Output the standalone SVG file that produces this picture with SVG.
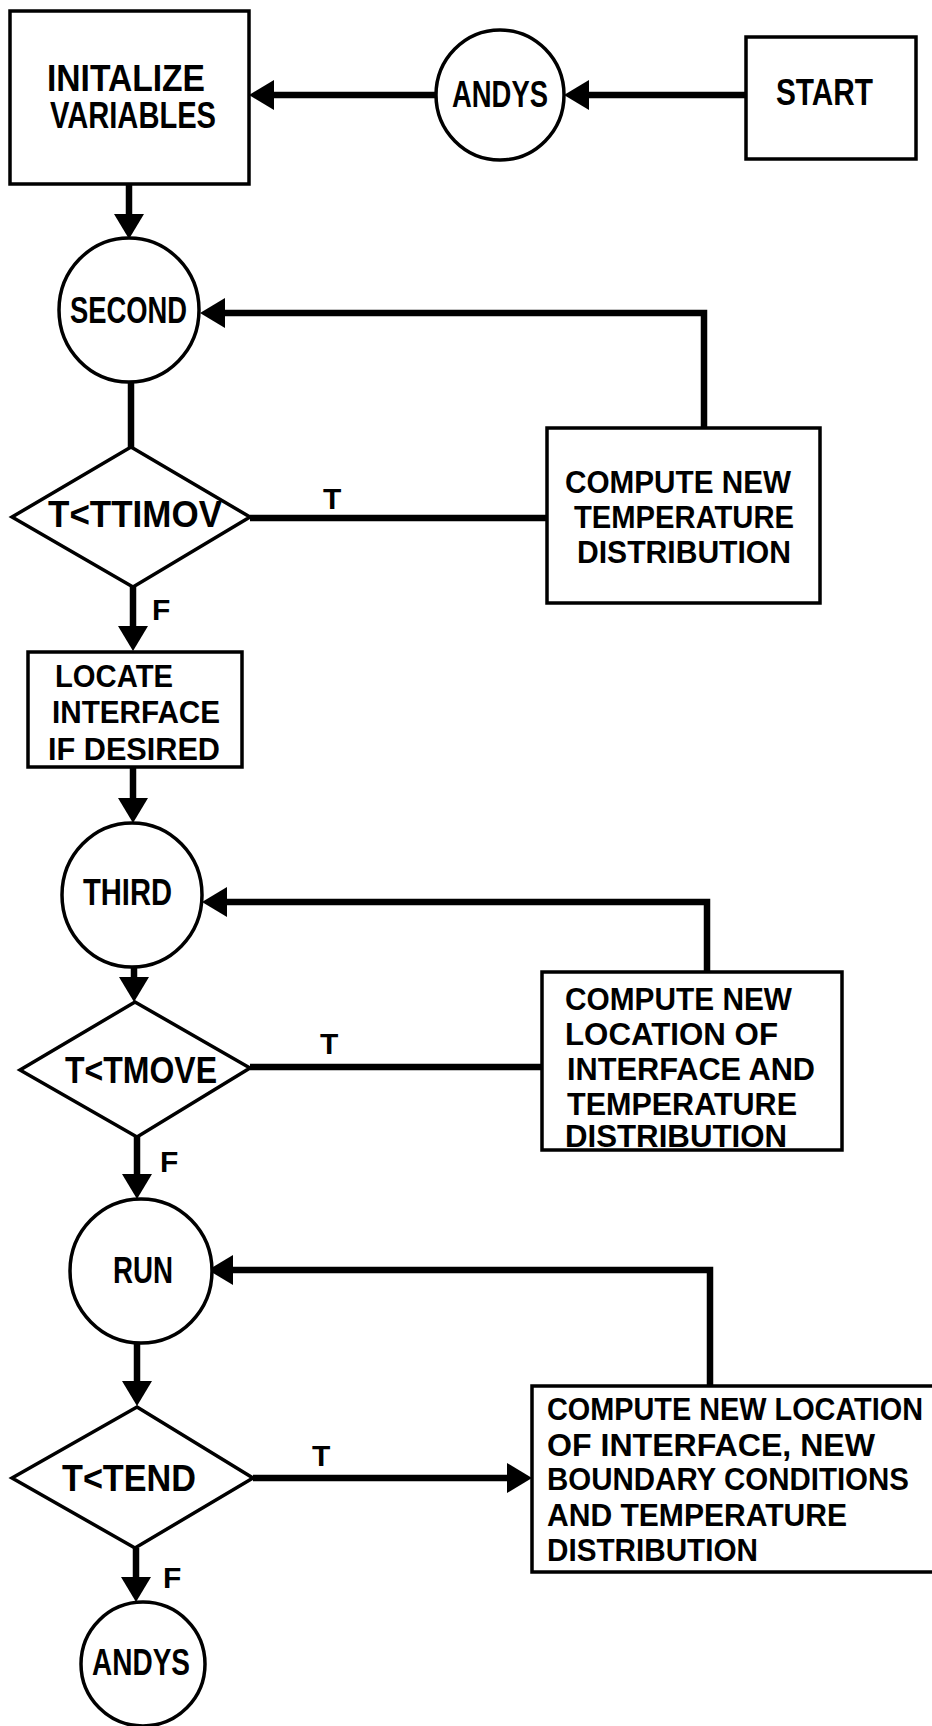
<svg xmlns="http://www.w3.org/2000/svg" width="932" height="1726" viewBox="0 0 932 1726">
  <style>
    .node { fill: #ffffff; stroke: #000000; stroke-width: 3.5; stroke-linejoin: miter; }
    .flow { fill: none; stroke: #000000; stroke-width: 6.5; stroke-linejoin: miter; stroke-linecap: butt; }
    .lbl { font-family: "Liberation Sans", Arial, sans-serif; font-weight: bold; fill: #000000; }
    .big { font-size: 36px; }
    .box { font-size: 32px; }
    .tf { font-size: 30px; }
  </style>
  <defs>
    <marker id="head" markerUnits="userSpaceOnUse" viewBox="0 0 25 30" markerWidth="25" markerHeight="30" refX="1" refY="15" orient="auto">
      <path d="M0,0 L25,15 L0,30 Z" fill="#000000"/>
    </marker>
  </defs>
  <rect width="932" height="1726" fill="#ffffff"/>

  <!-- connectors -->
  <g id="connectors">
    <path class="flow" d="M746,95 H588" marker-end="url(#head)"/>
    <path class="flow" d="M436,95 H273" marker-end="url(#head)"/>
    <path class="flow" d="M129,184 V215" marker-end="url(#head)"/>
    <path class="flow" d="M704,429 V313 H224" marker-end="url(#head)"/>
    <path class="flow" d="M131,382 V447"/>
    <path class="flow" d="M250,518 H547"/>
    <path class="flow" d="M133,587 V627" marker-end="url(#head)"/>
    <path class="flow" d="M133,767 V799" marker-end="url(#head)"/>
    <path class="flow" d="M707,972 V902 H226" marker-end="url(#head)"/>
    <path class="flow" d="M134,967 V978" marker-end="url(#head)"/>
    <path class="flow" d="M250,1067 H542"/>
    <path class="flow" d="M137,1137 V1175" marker-end="url(#head)"/>
    <path class="flow" d="M710,1386 V1270 H232" marker-end="url(#head)"/>
    <path class="flow" d="M137,1343 V1382" marker-end="url(#head)"/>
    <path class="flow" d="M253,1478 H508" marker-end="url(#head)"/>
    <path class="flow" d="M136,1548 V1578" marker-end="url(#head)"/>
    <text class="lbl tf" x="323" y="509">T</text>
    <text class="lbl tf" x="152" y="620">F</text>
    <text class="lbl tf" x="320" y="1054">T</text>
    <text class="lbl tf" x="160" y="1172">F</text>
    <text class="lbl tf" x="312" y="1466">T</text>
    <text class="lbl tf" x="163" y="1588">F</text>
  </g>

  <g id="start">
    <rect class="node" x="746" y="37" width="170" height="122"/>
    <text class="lbl big" x="776" y="105" textLength="97" lengthAdjust="spacingAndGlyphs">START</text>
  </g>

  <g id="andys-entry">
    <ellipse class="node" cx="500" cy="95" rx="64" ry="65"/>
    <text class="lbl big" x="452" y="107" textLength="96" lengthAdjust="spacingAndGlyphs">ANDYS</text>
  </g>

  <g id="initialize">
    <rect class="node" x="10" y="11" width="239" height="173"/>
    <text class="lbl" font-size="36" x="47" y="91" textLength="158" lengthAdjust="spacingAndGlyphs">INITALIZE</text>
    <text class="lbl" font-size="36" x="50" y="128" textLength="166" lengthAdjust="spacingAndGlyphs">VARIABLES</text>
  </g>

  <g id="second">
    <ellipse class="node" cx="129" cy="310" rx="70" ry="72"/>
    <text class="lbl big" x="70" y="323" textLength="117" lengthAdjust="spacingAndGlyphs">SECOND</text>
  </g>

  <g id="test-ttimov">
    <polygon class="node" points="131,447 250,517 133,587 12,517"/>
    <text class="lbl big" x="48" y="527" textLength="174" lengthAdjust="spacingAndGlyphs">T&lt;TTIMOV</text>
  </g>

  <g id="compute-temperature">
    <rect class="node" x="547" y="428" width="273" height="175"/>
    <text class="lbl box" x="565" y="493" textLength="226" lengthAdjust="spacingAndGlyphs">COMPUTE NEW</text>
    <text class="lbl box" x="574" y="528" textLength="220" lengthAdjust="spacingAndGlyphs">TEMPERATURE</text>
    <text class="lbl box" x="577" y="563" textLength="214" lengthAdjust="spacingAndGlyphs">DISTRIBUTION</text>
  </g>

  <g id="locate-interface">
    <rect class="node" x="28" y="652" width="214" height="115"/>
    <text class="lbl box" x="55" y="687" textLength="118" lengthAdjust="spacingAndGlyphs">LOCATE</text>
    <text class="lbl box" x="52" y="723" textLength="168" lengthAdjust="spacingAndGlyphs">INTERFACE</text>
    <text class="lbl box" x="48" y="760" textLength="172" lengthAdjust="spacingAndGlyphs">IF DESIRED</text>
  </g>

  <g id="third">
    <ellipse class="node" cx="132" cy="895" rx="70" ry="72"/>
    <text class="lbl big" x="83" y="905" textLength="89" lengthAdjust="spacingAndGlyphs">THIRD</text>
  </g>

  <g id="test-tmove">
    <polygon class="node" points="135,1002 250,1068 137,1137 20,1070"/>
    <text class="lbl big" x="65" y="1083" textLength="152" lengthAdjust="spacingAndGlyphs">T&lt;TMOVE</text>
  </g>

  <g id="compute-location">
    <rect class="node" x="542" y="972" width="300" height="178"/>
    <text class="lbl box" x="565" y="1010" textLength="227" lengthAdjust="spacingAndGlyphs">COMPUTE NEW</text>
    <text class="lbl box" x="565" y="1045" textLength="213" lengthAdjust="spacingAndGlyphs">LOCATION OF</text>
    <text class="lbl box" x="567" y="1080" textLength="248" lengthAdjust="spacingAndGlyphs">INTERFACE AND</text>
    <text class="lbl box" x="567" y="1115" textLength="230" lengthAdjust="spacingAndGlyphs">TEMPERATURE</text>
    <text class="lbl box" x="565" y="1147" textLength="222" lengthAdjust="spacingAndGlyphs">DISTRIBUTION</text>
  </g>

  <g id="run">
    <ellipse class="node" cx="141" cy="1271" rx="71" ry="72"/>
    <text class="lbl big" x="113" y="1283" textLength="60" lengthAdjust="spacingAndGlyphs">RUN</text>
  </g>

  <g id="test-tend">
    <polygon class="node" points="137,1407 253,1478 135,1548 12,1478"/>
    <text class="lbl big" x="62" y="1491" textLength="134" lengthAdjust="spacingAndGlyphs">T&lt;TEND</text>
  </g>

  <g id="compute-boundary">
    <rect class="node" x="532" y="1386" width="420" height="186"/>
    <text class="lbl box" x="547" y="1420" textLength="376" lengthAdjust="spacingAndGlyphs">COMPUTE NEW LOCATION</text>
    <text class="lbl box" x="547" y="1456" textLength="328" lengthAdjust="spacingAndGlyphs">OF INTERFACE, NEW</text>
    <text class="lbl box" x="547" y="1490" textLength="362" lengthAdjust="spacingAndGlyphs">BOUNDARY CONDITIONS</text>
    <text class="lbl box" x="547" y="1526" textLength="300" lengthAdjust="spacingAndGlyphs">AND TEMPERATURE</text>
    <text class="lbl box" x="547" y="1561" textLength="211" lengthAdjust="spacingAndGlyphs">DISTRIBUTION</text>
  </g>

  <g id="andys-exit">
    <ellipse class="node" cx="143" cy="1664" rx="62" ry="62"/>
    <text class="lbl big" x="92" y="1675" textLength="98" lengthAdjust="spacingAndGlyphs">ANDYS</text>
  </g>
</svg>
